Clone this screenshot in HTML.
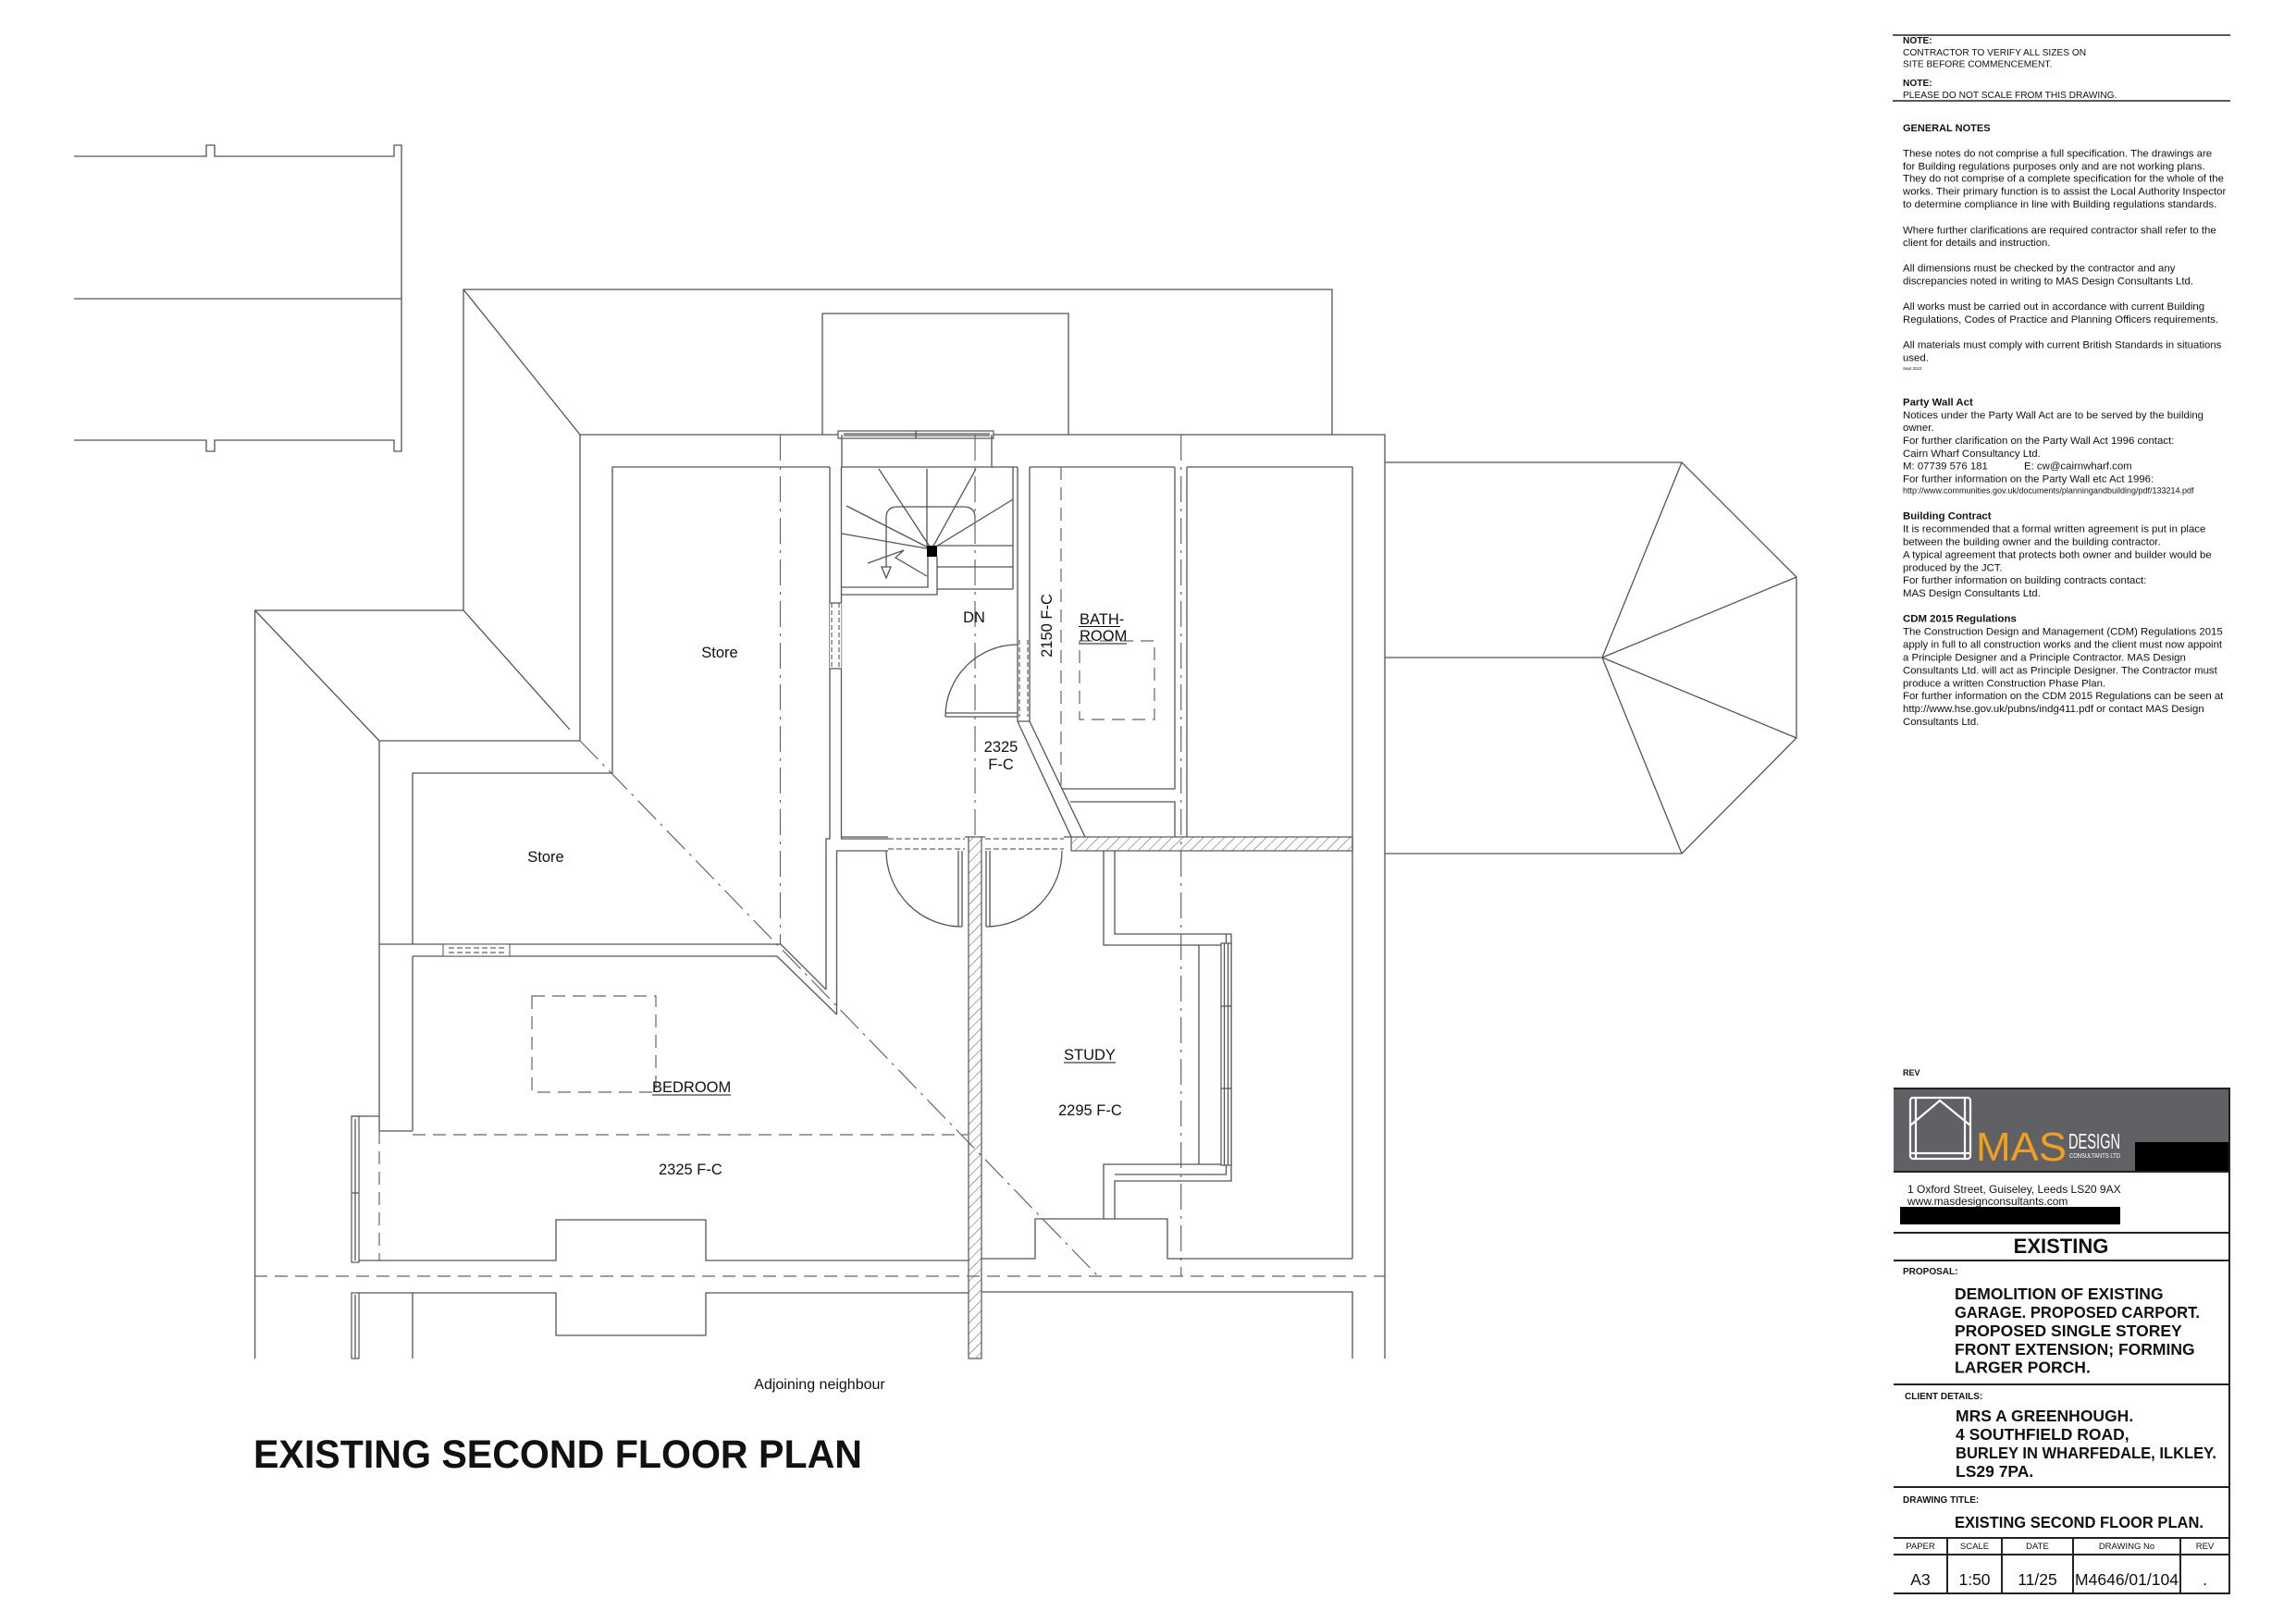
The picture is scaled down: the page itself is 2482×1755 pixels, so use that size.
<!DOCTYPE html>
<html><head><meta charset="utf-8"><style>
html,body{margin:0;padding:0;background:#fff;}
svg{position:absolute;left:0;top:0;}
text{font-family:"Liberation Sans",Arial,sans-serif;fill:#111;}
.l{fill:none;stroke:#555;stroke-width:1.3;}
.dd{fill:none;stroke:#666;stroke-width:1.2;stroke-dasharray:28 7 3 7;}
.ds{fill:none;stroke:#666;stroke-width:1.2;stroke-dasharray:14 8;}
.b{fill:none;stroke:#222;stroke-width:2;}
</style></head><body>
<svg width="2482" height="1755" viewBox="0 0 2482 1755" xmlns="http://www.w3.org/2000/svg">
<defs>
<pattern id="h" patternUnits="userSpaceOnUse" width="8" height="8" patternTransform="rotate(45)">
<line x1="0" y1="0" x2="0" y2="8" stroke="#555" stroke-width="1"/>
</pattern>
</defs>
<!-- top-left structure -->
<path class="l" d="M80,169 H223 V157 H232 V169 H426 V157 H434 V488 H426 V476 H232 V488 H223 V476 H80 M80,323 H434"/>
<!-- roofs -->
<path class="l" d="M501,660 V313 H1440 V470 M501,313 L627,470 M275.6,1469 V660 H501 M275.6,660 L410,801 M501,660 L616,789"/>
<path class="l" d="M410,1223 V801 H627 V470 H1497 V1469"/>
<path class="l" d="M1497,500 H1818 L1942,624 V798 L1818,923 H1497 M1497,711 H1732 L1818,500 M1732,711 L1942,624 M1732,711 L1942,798 M1732,711 L1818,923"/>
<path class="l" d="M889,470 V339 H1155 V470"/>
<rect x="906" y="466" width="168" height="8" fill="#fff" stroke="#555" stroke-width="1.2"/>
<path class="l" d="M912,469 H1070 M912,471 H1070 M990,466 V474"/>
<!-- inner walls -->
<path class="l" d="M662,836 V505 H897 M897,505 V907 H893 V1070 M909.5,505 V907 H960 M904.5,1097 V920 H960"/>
<path class="l" d="M910,470 V505 H1072 V470 M1072,505 H1100 M1113,505 H1270 M1283,505 H1462 V1361"/>
<rect x="897" y="652" width="12.5" height="71" fill="#fff"/>
<path class="ds" d="M899,652 V723 M907,652 V723" style="stroke-dasharray:5 3"/>
<path class="l" d="M897,652 H909 M897,723 H909"/>
<!-- stair -->
<path class="l" d="M1095,505 V637 M1100,505 V780 M1113,505 V780 M910,635 H1003 V602 M1013,602 V643 H910 M1013,637 H1095 M1013,590 H1095 M1013,613 H1095 M1002,507 V590"/>
<path class="l" d="M1007,594 L950,507 M1007,594 L1055,507 M1007,594 L1095,540 M1007,594 L915,547 M1007,594 L910,577"/>
<path class="l" d="M958,613 V560 Q958,548 970,548 H1042 Q1054,548 1054,560"/>
<path class="l" d="M953,613 H963 L958,625 Z M938,609 L977,595 L968,603 L1002,623"/>
<rect x="1002" y="590" width="11" height="12" fill="#000"/>
<!-- centre lines -->
<path class="dd" d="M843.5,470 V1021 M1054,470 V905 M1276.7,470 V1380 M627,801 L1187,1380"/>
<!-- bathroom -->
<path class="ds" d="M1147,505 V853"/>
<path class="l" d="M1270,505 V853 H1148 M1157,867 H1270 V905 M1283,505 V905"/>
<path class="l" d="M1100,780 L1158,905 M1113,780 L1173,905 M1100,780 H1113"/>
<path class="ds" d="M1102,692 V775 M1111,692 V775" style="stroke-dasharray:5 3"/>
<path class="l" d="M1022,775 H1100 M1022,771 H1100 M1022,775 A78,78 0 0 1 1100,697"/>
<rect class="ds" x="1167" y="693" width="81" height="85"/>
<!-- landing bottom / doors -->
<path class="l" d="M909,905 H960 M1043,905 H1047 M1061,905 H1065 M1150,905 H1158"/>
<path class="ds" d="M960,907 H1043 M960,918 H1043 M1065,907 H1150 M1065,918 H1150" style="stroke-dasharray:6 3"/>
<rect x="1158" y="905" width="304" height="15" fill="url(#h)" stroke="#555" stroke-width="1.2"/>
<rect x="1047" y="905" width="14" height="564" fill="url(#h)" stroke="#555" stroke-width="1.2"/>
<path class="l" d="M1040,920 V1002 M1036,920 V1002 M958,920 A82,82 0 0 0 1040,1002"/>
<path class="l" d="M1066,920 V1002 M1070,920 V1002 M1066,1002 A82,82 0 0 0 1148,920"/>
<!-- store / bedroom -->
<path class="l" d="M446,1021 V836 H662 M410,1021 H844 L893,1070 M446,1034 H840 L904.5,1097 M446,1034 V1223 M410,1223 H446"/>
<rect x="479" y="1021" width="72" height="13" fill="#fff" stroke="#555" stroke-width="1"/>
<path class="ds" d="M485,1025 H545 M485,1030 H545" style="stroke-dasharray:6 3"/>
<path class="ds" d="M446,1227 H1046 M410,1223 V1363 M275,1380 H1497"/>
<rect class="ds" x="575" y="1077" width="134" height="104"/>
<rect x="380" y="1207" width="8" height="158" fill="#fff" stroke="#555" stroke-width="1.2"/>
<rect x="380" y="1398" width="8" height="71" fill="#fff" stroke="#555" stroke-width="1.2"/>
<path class="l" d="M384,1210 V1363 M384,1400 V1469 M380,1207 H410 M380,1290 H388"/>
<path class="l" d="M388,1363 H601 V1319 H763 V1363 H1047 M1061,1361 H1119 V1318 H1262 V1361 H1462"/>
<path class="l" d="M388,1398 H601 V1444 H763 V1398 H1047 M446,1398 V1469 M1061,1397 H1462 V1469"/>
<!-- study -->
<path class="l" d="M1193,920 V1022 H1320 M1296,1022 V1259 M1193,1318 V1259 H1320 M1205,920 V1010 H1331 V1277 H1205 V1318 M1325.5,1010 V1270 H1205"/>
<rect x="1320" y="1020" width="11" height="240" fill="#fff" stroke="#555" stroke-width="1.2"/>
<path class="l" d="M1323.5,1020 V1260 M1327.5,1020 V1260 M1320,1088 H1331 M1320,1177 H1331"/>
<!-- labels -->
<g font-size="16.5">
<text x="778" y="711" text-anchor="middle">Store</text>
<text x="590" y="932" text-anchor="middle">Store</text>
<text x="1053" y="673" text-anchor="middle">DN</text>
<text transform="translate(1137,676.5) rotate(-90)" text-anchor="middle">2150 F-C</text>
<text x="1167" y="675">BATH-</text>
<text x="1167" y="693">ROOM</text>
<text x="1082" y="813" text-anchor="middle">2325</text>
<text x="1082" y="832" text-anchor="middle">F-C</text>
<text x="705" y="1181">BEDROOM</text>
<text x="712" y="1270">2325 F-C</text>
<text x="1150" y="1146">STUDY</text>
<text x="1144" y="1206">2295 F-C</text>
<text x="886" y="1502" text-anchor="middle" font-size="16">Adjoining neighbour</text>
</g>
<path stroke="#111" stroke-width="1" d="M1166,677.5 H1211 M1166,696 H1218 M705,1184 H790 M1150,1149 H1206"/>
<text x="274" y="1587" font-size="43" font-weight="bold" textLength="658" lengthAdjust="spacingAndGlyphs">EXISTING SECOND FLOOR PLAN</text>

<!-- notes -->
<path class="b" style="stroke-width:1.6" d="M2046,38 H2411 M2046,109 H2411"/>
<g font-size="10.2">
<text x="2057" y="47" font-weight="bold">NOTE:</text>
<text x="2057" y="60">CONTRACTOR TO VERIFY ALL SIZES ON</text>
<text x="2057" y="72.7">SITE BEFORE COMMENCEMENT.</text>
<text x="2057" y="93" font-weight="bold">NOTE:</text>
<text x="2057" y="106">PLEASE DO NOT SCALE FROM THIS DRAWING.</text>
</g>
<text x="2057" y="142" font-size="11" font-weight="bold">GENERAL NOTES</text>
<g font-size="11.4">
<text x="2057" y="169.3">These notes do not comprise a full specification. The drawings are</text>
<text x="2057" y="183.3">for Building regulations purposes only and are not working plans.</text>
<text x="2057" y="196.7">They do not comprise of a complete specification for the whole of the</text>
<text x="2057" y="210.7">works. Their primary function is to assist the Local Authority Inspector</text>
<text x="2057" y="224.7">to determine compliance in line with Building regulations standards.</text>
<text x="2057" y="252.3">Where further clarifications are required contractor shall refer to the</text>
<text x="2057" y="266">client for details and instruction.</text>
<text x="2057" y="293.3">All dimensions must be checked by the contractor and any</text>
<text x="2057" y="307.7">discrepancies noted in writing to MAS Design Consultants Ltd.</text>
<text x="2057" y="335">All works must be carried out in accordance with current Building</text>
<text x="2057" y="349">Regulations, Codes of Practice and Planning Officers requirements.</text>
<text x="2057" y="376.7">All materials must comply with current British Standards in situations</text>
<text x="2057" y="390.7">used.</text>
<text x="2057" y="400" font-size="4.5">Sept 2022</text>
<text x="2057" y="438.3" font-weight="bold">Party Wall Act</text>
<text x="2057" y="452.3">Notices under the Party Wall Act are to be served by the building</text>
<text x="2057" y="466">owner.</text>
<text x="2057" y="480">For further clarification on the Party Wall Act 1996 contact:</text>
<text x="2057" y="494">Cairn Wharf Consultancy Ltd.</text>
<text x="2057" y="507.7">M: 07739 576 181</text>
<text x="2188" y="507.7">E: cw@cairnwharf.com</text>
<text x="2057" y="521.7">For further information on the Party Wall etc Act 1996:</text>
<text x="2057" y="533.3" font-size="9">http://www.communities.gov.uk/documents/planningandbuilding/pdf/133214.pdf</text>
<text x="2057" y="561.7" font-weight="bold">Building Contract</text>
<text x="2057" y="575.7">It is recommended that a formal written agreement is put in place</text>
<text x="2057" y="589.3">between the building owner and the building contractor.</text>
<text x="2057" y="603.3">A typical agreement that protects both owner and builder would be</text>
<text x="2057" y="617.3">produced by the JCT.</text>
<text x="2057" y="631">For further information on building contracts contact:</text>
<text x="2057" y="645">MAS Design Consultants Ltd.</text>
<text x="2057" y="672.7" font-weight="bold">CDM 2015 Regulations</text>
<text x="2057" y="686.7">The Construction Design and Management  (CDM) Regulations 2015</text>
<text x="2057" y="700.7">apply in full to all construction works and the client must now appoint</text>
<text x="2057" y="714.3">a Principle Designer and a Principle Contractor.  MAS Design</text>
<text x="2057" y="728.3">Consultants Ltd. will act as Principle Designer.  The Contractor must</text>
<text x="2057" y="742.3">produce a written Construction Phase Plan.</text>
<text x="2057" y="756">For further information on the CDM 2015 Regulations can be seen at</text>
<text x="2057" y="770">http://www.hse.gov.uk/pubns/indg411.pdf or contact MAS Design</text>
<text x="2057" y="784">Consultants Ltd.</text>
</g>

<!-- title block -->
<text x="2057" y="1163" font-size="9" font-weight="bold">REV</text>
<rect x="2047" y="1177" width="363" height="90" fill="#5f6164"/>
<rect x="2308" y="1235" width="102" height="31" fill="#000"/>
<g fill="none" stroke="#fff" stroke-width="2.2">
<rect x="2065" y="1187" width="65" height="66" rx="3"/>
<path d="M2071,1187 V1253 M2124,1187 V1253 M2065,1247 H2130 M2065,1217 L2097,1190 L2130,1217"/>
</g>
<text x="2136" y="1255" font-size="44" style="fill:#f0a01e" textLength="98" lengthAdjust="spacingAndGlyphs">MAS</text>
<text x="2236" y="1242" font-size="23" style="fill:#fff" textLength="56" lengthAdjust="spacingAndGlyphs">DESIGN</text>
<text x="2237" y="1252" font-size="7" style="fill:#fff" textLength="55" lengthAdjust="spacingAndGlyphs">CONSULTANTS LTD</text>
<path class="b" d="M2047,1177 H2410 V1723 H2047 M2047,1267 H2410 M2047,1333 H2410 M2047,1363 H2410 M2047,1497 H2410 M2047,1608 H2410 M2047,1663 H2410 M2047,1681 H2410 M2105,1663 V1723 M2164,1663 V1723 M2241,1663 V1723 M2357,1663 V1723"/>
<text x="2062" y="1290" font-size="12">1 Oxford Street, Guiseley, Leeds LS20 9AX</text>
<text x="2062" y="1303" font-size="12">www.masdesignconsultants.com</text>
<rect x="2054" y="1305" width="238" height="19" fill="#000"/>
<text x="2228" y="1355" font-size="22" font-weight="bold" text-anchor="middle">EXISTING</text>
<g font-size="10" font-weight="bold">
<text x="2057" y="1378">PROPOSAL:</text>
<text x="2059" y="1513">CLIENT DETAILS:</text>
<text x="2057" y="1625">DRAWING TITLE:</text>
</g>
<g font-size="17.5" font-weight="bold">
<text x="2113" y="1405">DEMOLITION OF EXISTING</text>
<text x="2113" y="1425" textLength="265" lengthAdjust="spacingAndGlyphs">GARAGE. PROPOSED CARPORT.</text>
<text x="2113" y="1445">PROPOSED SINGLE STOREY</text>
<text x="2113" y="1465">FRONT EXTENSION; FORMING</text>
<text x="2113" y="1484.5">LARGER PORCH.</text>
<text x="2114" y="1537">MRS A GREENHOUGH.</text>
<text x="2114" y="1557">4 SOUTHFIELD ROAD,</text>
<text x="2114" y="1577" textLength="282" lengthAdjust="spacingAndGlyphs">BURLEY IN WHARFEDALE, ILKLEY.</text>
<text x="2114" y="1597">LS29 7PA.</text>
<text x="2113" y="1652" textLength="269" lengthAdjust="spacingAndGlyphs">EXISTING SECOND FLOOR PLAN.</text>
</g>
<g font-size="9.5" text-anchor="middle">
<text x="2076" y="1675">PAPER</text>
<text x="2134.5" y="1675">SCALE</text>
<text x="2202.5" y="1675">DATE</text>
<text x="2299" y="1675">DRAWING No</text>
<text x="2383.5" y="1675">REV</text>
</g>
<g font-size="17.5" text-anchor="middle">
<text x="2076" y="1714">A3</text>
<text x="2134.5" y="1714">1:50</text>
<text x="2202.5" y="1714">11/25</text>
<text x="2299" y="1714">M4646/01/104</text>
<text x="2383.5" y="1714">.</text>
</g>
</svg>
</body></html>
